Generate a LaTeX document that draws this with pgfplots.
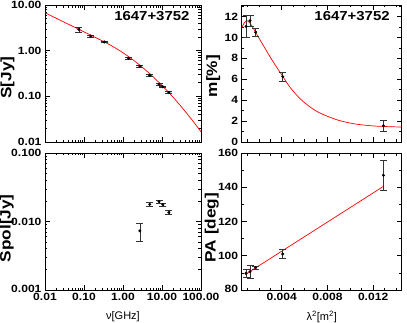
\documentclass[border=0pt]{standalone}
\usepackage{fontspec}
\setmainfont{Liberation Sans}
\newfontfamily\wide[FakeStretch=1.15]{Liberation Sans}
\usepackage{pgfplots}
\pgfplotsset{compat=1.18}

% spectrum fit
\pgfplotstableread{
nu S
0.01 6.78
0.0316 4.18
0.1 2.58
0.316 1.59
0.562 1.22
1.0 0.90
1.78 0.635
3.16 0.43
5.62 0.279
10.0 0.173
17.8 0.103
31.6 0.0587
56.2 0.0321
100 0.0168
}\sfit

\tikzset{ttl/.style={anchor=east, font=\wide\bfseries\fontsize{13}{14}\selectfont}}
\pgfplotsset{
  panel/.style={
    scale only axis, anchor=south west,
    width=156pt, height=137pt,
    axis line style={line width=0.9pt},
    tick align=inside,
    major tick length=5pt, minor tick length=2.5pt,
    tick style={black, line width=0.6pt},
    ticklabel style={font=\wide\bfseries\fontsize{10.5}{11}\selectfont},
    ylabel style={font=\wide\bfseries\fontsize{15}{16}\selectfont},
    xlabel style={font=\fontsize{11}{12}\selectfont, at={(axis description cs:0.5,-0.195)}, anchor=center},
    scaled x ticks=false, scaled y ticks=false,
  },
  dat/.style={only marks, mark=*, mark size=1.3pt, black,
    error bars/.cd, y dir=both, y explicit,
    error bar style={black!80, line width=0.6pt},
    error mark options={rotate=90, mark size=3.5pt, line width=0.6pt, black!80}},
  fit/.style={red, line width=0.7pt, no markers},
}

\begin{document}
\begin{tikzpicture}
\useasboundingbox (0,0) rectangle (407pt,-323pt);

% total flux
\begin{axis}[panel, at={(45pt,-142pt)},
  xmode=log, ymode=log,
  xmin=0.01, xmax=100, ymin=0.01, ymax=10,
  xtick={0.01,0.1,1,10,100}, xticklabels={},
  ytick={0.01,0.1,1,10}, yticklabels={\raisebox{-3pt}{0.01},0.10,1.00,10.00},
  ylabel={S[Jy]},
  ylabel style={at={(axis description cs:-0.24,0.47)}, anchor=center},
]
\addplot[fit, smooth] table[x=nu, y=S] {\sfit};
\addplot[dat] coordinates {
  (0.074,2.93) +- (0,0.4)
  (0.148,2.09) +- (0,0.08)
  (0.33,1.55) +- (0,0.06)
  (1.4,0.68) +- (0,0.03)
  (2.7,0.46) +- (0,0.02)
  (4.85,0.29) +- (0,0.012)
  (8.4,0.185) +- (0,0.008)
  (10.5,0.162) +- (0,0.007)
  (15,0.122) +- (0,0.005)
};
\node[ttl] at (rel axis cs:0.949,0.922) {1647+3752};
\end{axis}

% polarized flux
\begin{axis}[panel, at={(45pt,-290pt)},
  xmode=log, ymode=log,
  xmin=0.01, xmax=100, ymin=0.001, ymax=0.1,
  xtick={0.01,0.1,1,10,100}, xticklabels={0.01,0.10,1.00,10.00,100.00},
  ytick={0.001,0.01,0.1}, yticklabels={\raisebox{2pt}{0.001},0.010,0.100},
  ylabel={Spol[Jy]}, xlabel={ν[GHz]},
  ylabel style={at={(axis description cs:-0.245,0.45)}, anchor=center},
]
\addplot[dat] coordinates {
  (2.7,0.0073) +- (0,0.0021)
  (4.85,0.0178) +- (0,0.0011)
  (8.4,0.0195) +- (0,0.0012)
  (10.5,0.0176) +- (0,0.0011)
  (15,0.0136) +- (0,0.0009)
};
\end{axis}

% fractional polarization
\begin{axis}[panel, at={(241.7pt,-142pt)}, width=160pt,
  xmin=0.0005, xmax=0.0145, ymin=0, ymax=13.1,
  xtick={0.004,0.008,0.012}, xticklabels={},
  minor xtick={0.001,0.002,0.003,0.005,0.006,0.007,0.009,0.010,0.011,0.013,0.014},
  ytick={0,2,4,6,8,10,12}, yticklabels={\raisebox{-3pt}{0},2,4,6,8,10,12},
  minor ytick={1,3,5,7,9,11,13},
  ylabel={m[\%]},
  ylabel style={at={(axis description cs:-0.178,0.48)}, anchor=center},
]
\addplot[fit, smooth] coordinates {
  (0.0005,10.9) (0.0007,11.35) (0.00095,11.6) (0.0012,11.4) (0.00166,10.6)
  (0.0023,9.4) (0.00298,8.15) (0.0035,7.25) (0.00409,6.28) (0.00473,5.23)
  (0.0056,4.15) (0.00648,3.35) (0.00735,2.77) (0.00881,2.13) (0.01027,1.75)
  (0.01173,1.56) (0.0129,1.485) (0.0145,1.43)
};
\addplot[dat] coordinates {
  (0.00088,11.05) +- (0,1.05)
  (0.00123,11.6) +- (0,0.5)
  (0.00172,10.5) +- (0,0.4)
  (0.00409,6.25) +- (0,0.45)
  (0.0129,1.55) +- (0,0.5)
};
\node[ttl] at (rel axis cs:0.947,0.922) {1647+3752};
\end{axis}

% polarization angle
\begin{axis}[panel, at={(241.7pt,-290pt)}, width=160pt,
  xmin=0.0005, xmax=0.0145, ymin=80, ymax=160,
  xtick={0.004,0.008,0.012}, xticklabels={0.004,0.008,0.012},
  minor xtick={0.001,0.002,0.003,0.005,0.006,0.007,0.009,0.010,0.011,0.013,0.014},
  ytick={80,100,120,140,160}, yticklabels={\raisebox{2pt}{80},100,120,140,160},
  minor ytick={90,110,130,150},
  ylabel={PA [deg]}, xlabel={λ\textsuperscript{2}[m\textsuperscript{2}]},
  ylabel style={at={(axis description cs:-0.1875,0.456)}, anchor=center},
]
\addplot[fit] coordinates {(0.00079,89) (0.0129,140.5)};
\addplot[dat] coordinates {
  (0.00088,89.8) +- (0,2.5)
  (0.00123,90.7) +- (0,3.7)
  (0.00172,93.0) +- (0,1.0)
  (0.00409,101.0) +- (0,2.6)
  (0.0129,147.0) +- (0,9.0)
};
\end{axis}
\end{tikzpicture}
\end{document}
